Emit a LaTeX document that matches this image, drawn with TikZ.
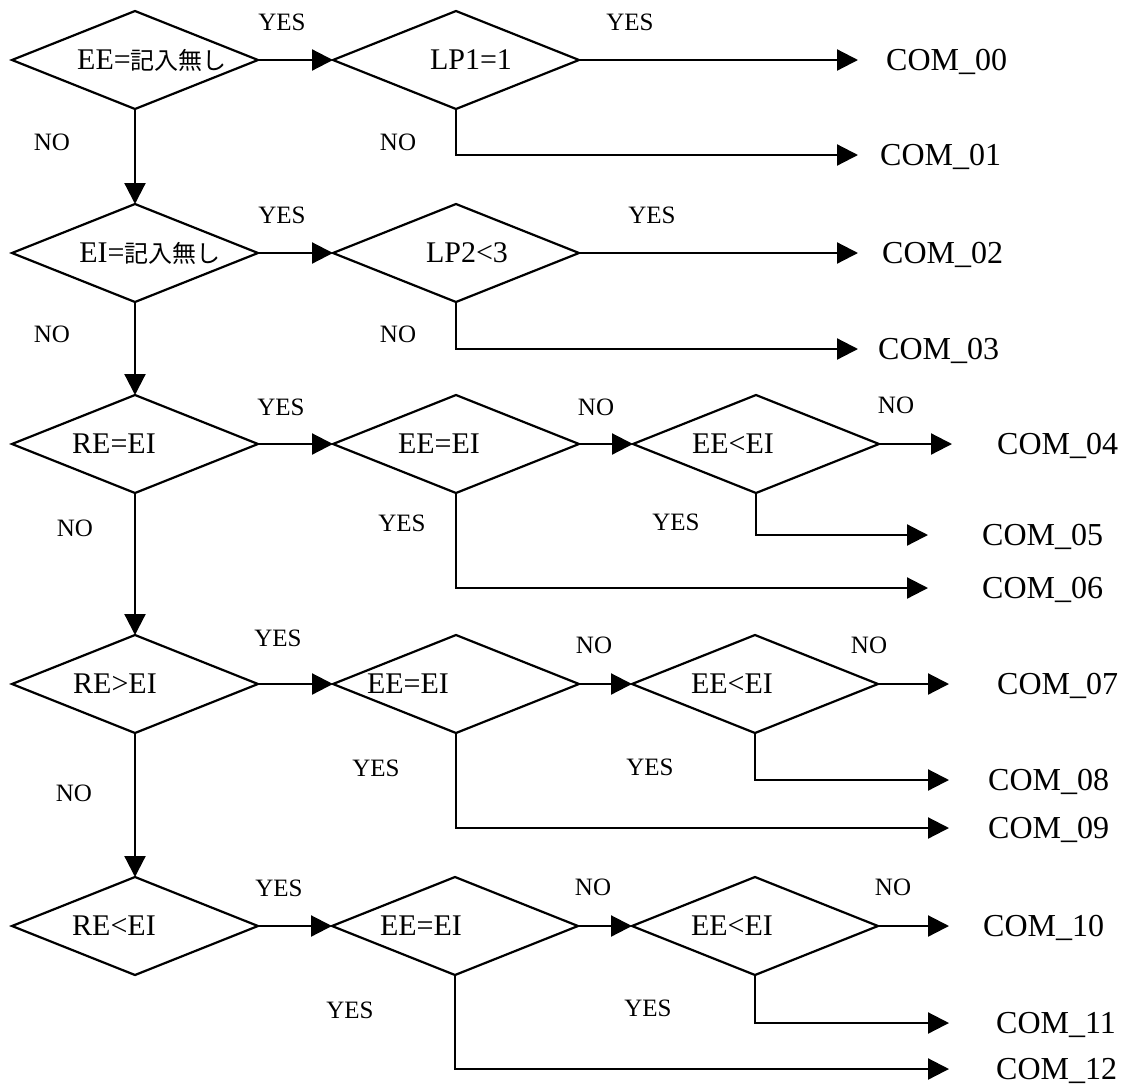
\documentclass[tikz,border=0pt]{standalone}
\usepackage{fontspec}
\setmainfont{Liberation Serif}
\usetikzlibrary{shapes.geometric,arrows.meta}
\newfontfamily\jpfont[Scale=0.8]{Noto Sans CJK JP}
\begin{document}
\begin{tikzpicture}[x=1pt,y=-1pt,
  dec/.style={draw, diamond, line width=2.2pt, minimum width=246pt, minimum height=98pt, inner sep=0pt, outer sep=0pt},
  dtxt/.style={font=\fontsize{30}{33}\selectfont, inner sep=0pt, text height=19.8pt, text depth=0pt},
  lbl/.style={font=\fontsize{25}{28}\selectfont, inner sep=0pt, text height=16.5pt, text depth=0pt},
  com/.style={font=\fontsize{32}{35}\selectfont, anchor=west, inner sep=0pt, text height=21pt, text depth=0pt},
  flow/.style={line width=2.2pt, -{Triangle[length=21pt,width=21pt]}}]
\useasboundingbox[fill=white] (0,0) rectangle (1137,1087);

% diamonds
\node[dec] (d11) at (135,60) {};
\node[dec] (d12) at (456,60) {};
\node[dec] (d21) at (135,253) {};
\node[dec] (d22) at (456,253) {};
\node[dec] (d31) at (135,444) {};
\node[dec] (d32) at (456,444) {};
\node[dec] (d33) at (756,444) {};
\node[dec] (d41) at (135,684) {};
\node[dec] (d42) at (456,684) {};
\node[dec] (d43) at (755,684) {};
\node[dec] (d51) at (135,926) {};
\node[dec] (d52) at (455,926) {};
\node[dec] (d53) at (755,926) {};

% diamond texts
\node[dtxt] (t11) at (152,60) {EE={\jpfont 記入無し}};
\node[dtxt] (t12) at (471,60) {LP1=1};
\node[dtxt] (t21) at (150,253) {EI={\jpfont 記入無し}};
\node[dtxt] (t22) at (467,253) {LP2<3};
\node[dtxt] (t31) at (114,444) {RE=EI};
\node[dtxt] (t32) at (439,444) {EE=EI};
\node[dtxt] (t33) at (733,444) {EE<EI};
\node[dtxt] (t41) at (115,684) {RE>EI};
\node[dtxt] (t42) at (408,684) {EE=EI};
\node[dtxt] (t43) at (732,684) {EE<EI};
\node[dtxt] (t51) at (114,926) {RE<EI};
\node[dtxt] (t52) at (421,926) {EE=EI};
\node[dtxt] (t53) at (732,926) {EE<EI};

% outputs
\node[com] (c00) at (886,60) {COM\_00};
\node[com] (c01) at (880,155) {COM\_01};
\node[com] (c02) at (882,253) {COM\_02};
\node[com] (c03) at (878,349) {COM\_03};
\node[com] (c04) at (997,444) {COM\_04};
\node[com] (c05) at (982,535) {COM\_05};
\node[com] (c06) at (982,588) {COM\_06};
\node[com] (c07) at (997,684) {COM\_07};
\node[com] (c08) at (988,780) {COM\_08};
\node[com] (c09) at (988,828) {COM\_09};
\node[com] (c10) at (983,926) {COM\_10};
\node[com] (c11) at (996,1023) {COM\_11};
\node[com] (c12) at (996,1069) {COM\_12};

% arrow tip coordinates
\coordinate (p00) at (858,60);
\coordinate (p01) at (858,155);
\coordinate (p02) at (858,253);
\coordinate (p03) at (858,349);
\coordinate (p04) at (952,444);
\coordinate (p05) at (928,535);
\coordinate (p06) at (928,588);
\coordinate (p07) at (949,684);
\coordinate (p08) at (949,780);
\coordinate (p09) at (949,828);
\coordinate (p10) at (949,926);
\coordinate (p11) at (949,1023);
\coordinate (p12) at (949,1069);

% connectors
\draw[flow] (d11.east) -- (d12.west);
\draw[flow] (d12.east) -- (p00);
\draw[flow] (d12.south) |- (p01);
\draw[flow] (d11.south) -- (d21.north);
\draw[flow] (d21.east) -- (d22.west);
\draw[flow] (d22.east) -- (p02);
\draw[flow] (d22.south) |- (p03);
\draw[flow] (d21.south) -- (d31.north);
\draw[flow] (d31.east) -- (d32.west);
\draw[flow] (d32.east) -- (d33.west);
\draw[flow] (d33.east) -- (p04);
\draw[flow] (d33.south) |- (p05);
\draw[flow] (d32.south) |- (p06);
\draw[flow] (d31.south) -- (d41.north);
\draw[flow] (d41.east) -- (d42.west);
\draw[flow] (d42.east) -- (d43.west);
\draw[flow] (d43.east) -- (p07);
\draw[flow] (d43.south) |- (p08);
\draw[flow] (d42.south) |- (p09);
\draw[flow] (d41.south) -- (d51.north);
\draw[flow] (d51.east) -- (d52.west);
\draw[flow] (d52.east) -- (d53.west);
\draw[flow] (d53.east) -- (p10);
\draw[flow] (d53.south) |- (p11);
\draw[flow] (d52.south) |- (p12);

% branch labels
\node[lbl] (l01) at (282,22) {YES};
\node[lbl] (l02) at (630,22) {YES};
\node[lbl] (l03) at (52,142) {NO};
\node[lbl] (l04) at (398,142) {NO};
\node[lbl] (l05) at (282,215) {YES};
\node[lbl] (l06) at (652,215) {YES};
\node[lbl] (l07) at (52,334) {NO};
\node[lbl] (l08) at (398,334) {NO};
\node[lbl] (l09) at (281,407) {YES};
\node[lbl] (l10) at (596,407) {NO};
\node[lbl] (l11) at (896,405) {NO};
\node[lbl] (l12) at (75,528) {NO};
\node[lbl] (l13) at (402,523) {YES};
\node[lbl] (l14) at (676,522) {YES};
\node[lbl] (l15) at (278,638) {YES};
\node[lbl] (l16) at (594,645) {NO};
\node[lbl] (l17) at (869,645) {NO};
\node[lbl] (l18) at (74,793) {NO};
\node[lbl] (l19) at (376,768) {YES};
\node[lbl] (l20) at (650,767) {YES};
\node[lbl] (l21) at (279,888) {YES};
\node[lbl] (l22) at (593,887) {NO};
\node[lbl] (l23) at (893,887) {NO};
\node[lbl] (l24) at (350,1010) {YES};
\node[lbl] (l25) at (648,1008) {YES};
\end{tikzpicture}
\end{document}
